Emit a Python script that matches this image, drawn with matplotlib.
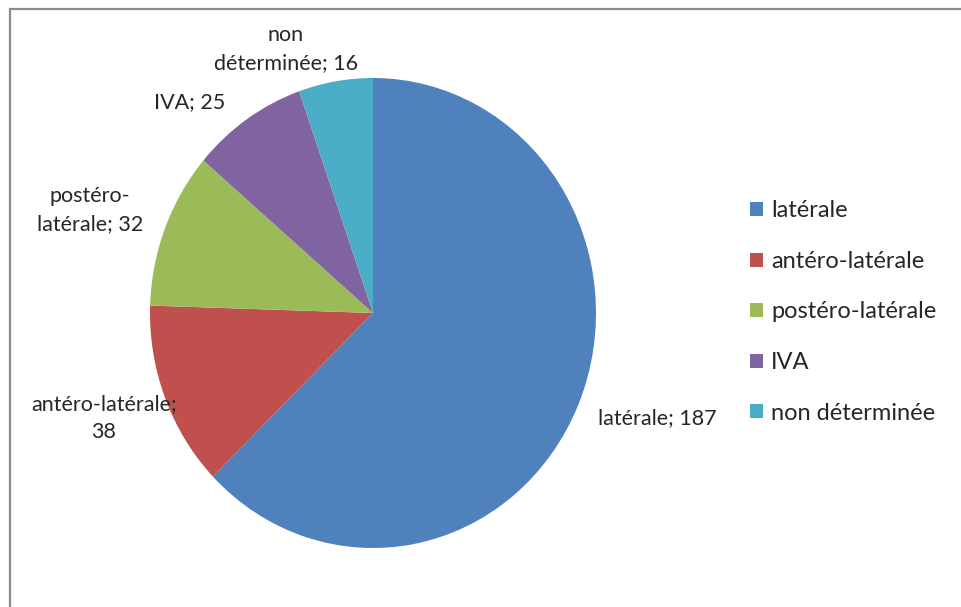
import matplotlib
matplotlib.use("Agg")
import matplotlib.pyplot as plt
from matplotlib.patches import Rectangle, Patch

plt.rcParams['font.family'] = ['Lato', 'DejaVu Sans']

# localisation counts
categories = ['latérale', 'antéro-latérale', 'postéro-latérale', 'IVA', 'non déterminée']
counts = [187, 38, 32, 25, 16]
slice_labels = ['latérale; 187', 'antéro-latérale;\n38', 'postéro-\nlatérale; 32',
                'IVA; 25', 'non\ndéterminée; 16']
colors = ['#4F81BD', '#C0504D', '#9BBB59', '#8064A2', '#4BACC6']
text_color = '#262626'

W, H = 961, 607
fig = plt.figure(figsize=(W / 100, H / 100), dpi=100)

# grey chart frame (open to the right and bottom)
fig.patches.append(Rectangle((10 / W, -0.05), 1.1, (H - 9) / H + 0.05,
                             transform=fig.transFigure, fill=False,
                             edgecolor='#8c8c8c', linewidth=1.6))

# pie area in pixels: centre (373, 313), radii 223 x 235
cx, cy, rx, ry = 373, 313, 223, 235
ax = fig.add_axes([(cx - rx) / W, (H - cy - ry) / H, 2 * rx / W, 2 * ry / H])
wedges, _ = ax.pie(counts, colors=colors, startangle=90, counterclock=False,
                   wedgeprops=dict(linewidth=0))
ax.set_aspect('auto')
ax.set_xlim(-1, 1)
ax.set_ylim(-1, 1)
ax.axis('off')

# data label anchors (pixel positions of label centres)
label_px = [(657, 418), (104, 418), (90, 210), (190, 102), (286, 49)]
for text, (px, py) in zip(slice_labels, label_px):
    ax.text((px - cx) / rx, (cy - py) / ry, text, ha='center', va='center',
            fontsize=15.5, color=text_color, linespacing=1.5, clip_on=False)

handles = [Patch(facecolor=c, edgecolor='none') for c in colors]
fig.legend(handles, categories, loc='center left',
           bbox_to_anchor=(750 / W, (H - 312) / H), frameon=False,
           fontsize=17, labelcolor=text_color, handlelength=0.55,
           handleheight=0.55, handletextpad=0.35, labelspacing=1.25,
           borderpad=0, borderaxespad=0)

fig.savefig('out.png', dpi=100, facecolor='white')
